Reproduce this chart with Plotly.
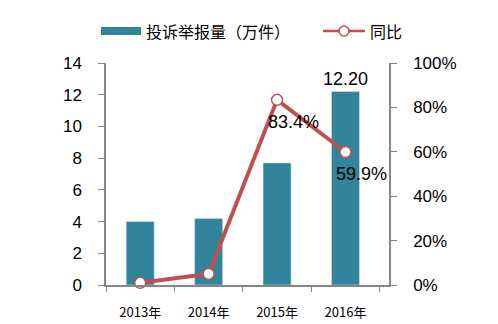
import plotly.graph_objects as go

categories = ["2013年", "2014年", "2015年", "2016年"]
complaints = [4.0, 4.2, 7.7, 12.2]
bar_labels = ["", "", "", "12.20"]
yoy = [0.01, 0.05, 0.834, 0.599]
yoy_labels = ["", "", "83.4%", "59.9%"]

BAR_COLOR = "#31849B"
LINE_COLOR = "#C0504D"
AXIS_COLOR = "#868686"
NUM_FONT = "Liberation Sans, Open Sans, sans-serif"
CJK_FONT = "Noto Sans CJK SC, sans-serif"

fig = go.Figure()
fig.add_trace(go.Bar(
    x=categories, y=complaints, marker_color=BAR_COLOR, name="投诉举报量（万件）",
    text=bar_labels, textposition="outside", cliponaxis=False, constraintext="none",
    textfont=dict(family=NUM_FONT, size=18, color="#000"), showlegend=False,
))
fig.add_trace(go.Scatter(
    x=categories, y=yoy, yaxis="y2", mode="lines+markers", name="同比",
    line=dict(color=LINE_COLOR, width=4),
    marker=dict(size=11, color="white", line=dict(color=LINE_COLOR, width=1.5)),
    cliponaxis=False, showlegend=False,
))
for c, v, t in zip(categories, yoy, yoy_labels):
    if t:
        fig.add_annotation(x=c, y=v, yref="y2", text=t, showarrow=False,
                           xshift=16, yshift=-22, font=dict(family=NUM_FONT, size=18, color="#000"))

# custom legend (plot area 106..389 px wide, 63..285 px tall)
def px_x(p):
    return (p - 106) / 283.0

def px_y(p):
    return (285 - p) / 222.0

fig.add_shape(type="rect", xref="paper", yref="paper", x0=px_x(101), x1=px_x(141),
              y0=px_y(35), y1=px_y(27), fillcolor=BAR_COLOR, line_width=0)
fig.add_annotation(xref="paper", yref="paper", x=px_x(144), y=px_y(31), xanchor="left",
                   yanchor="middle", text="投诉举报量（万件）", showarrow=False,
                   font=dict(family=CJK_FONT, size=16, color="#000"))
fig.add_shape(type="line", xref="paper", yref="paper", x0=px_x(323), x1=px_x(365),
              y0=px_y(31), y1=px_y(31), line=dict(color=LINE_COLOR, width=2.5))
fig.add_shape(type="circle", xref="paper", yref="paper", x0=px_x(339), x1=px_x(349),
              y0=px_y(36), y1=px_y(26), fillcolor="white", line=dict(color=LINE_COLOR, width=1.5))
fig.add_annotation(xref="paper", yref="paper", x=px_x(368), y=px_y(31), xanchor="left",
                   yanchor="middle", text="同比", showarrow=False,
                   font=dict(family=CJK_FONT, size=16, color="#000"))

fig.update_layout(
    width=498, height=324,
    margin=dict(l=106, r=109, t=63, b=39),
    paper_bgcolor="white", plot_bgcolor="white",
    bargap=0.59, showlegend=False,
    xaxis=dict(showline=True, linecolor=AXIS_COLOR, linewidth=1.5, ticks="outside",
               tickson="boundaries", ticklen=5, tickcolor=AXIS_COLOR,
               ticklabelstandoff=15, automargin=False,
               tickfont=dict(family=CJK_FONT, size=13, color="#000"),
               showgrid=False),
    yaxis=dict(range=[0, 14], dtick=2, showline=True, linecolor=AXIS_COLOR, linewidth=1.5,
               ticks="outside", ticklen=6, tickcolor=AXIS_COLOR, showgrid=False,
               ticklabelstandoff=13, automargin=False,
               zeroline=False, tickfont=dict(family=NUM_FONT, size=17, color="#000")),
    yaxis2=dict(range=[0, 1], dtick=0.2, tickformat=".0%", overlaying="y", side="right",
                showline=True, linecolor=AXIS_COLOR, linewidth=1.5, ticks="outside",
                ticklen=6, tickcolor=AXIS_COLOR, showgrid=False, zeroline=False,
                ticklabelstandoff=13, automargin=False,
                tickfont=dict(family=NUM_FONT, size=17, color="#000")),
)

fig.write_html("out.html")
